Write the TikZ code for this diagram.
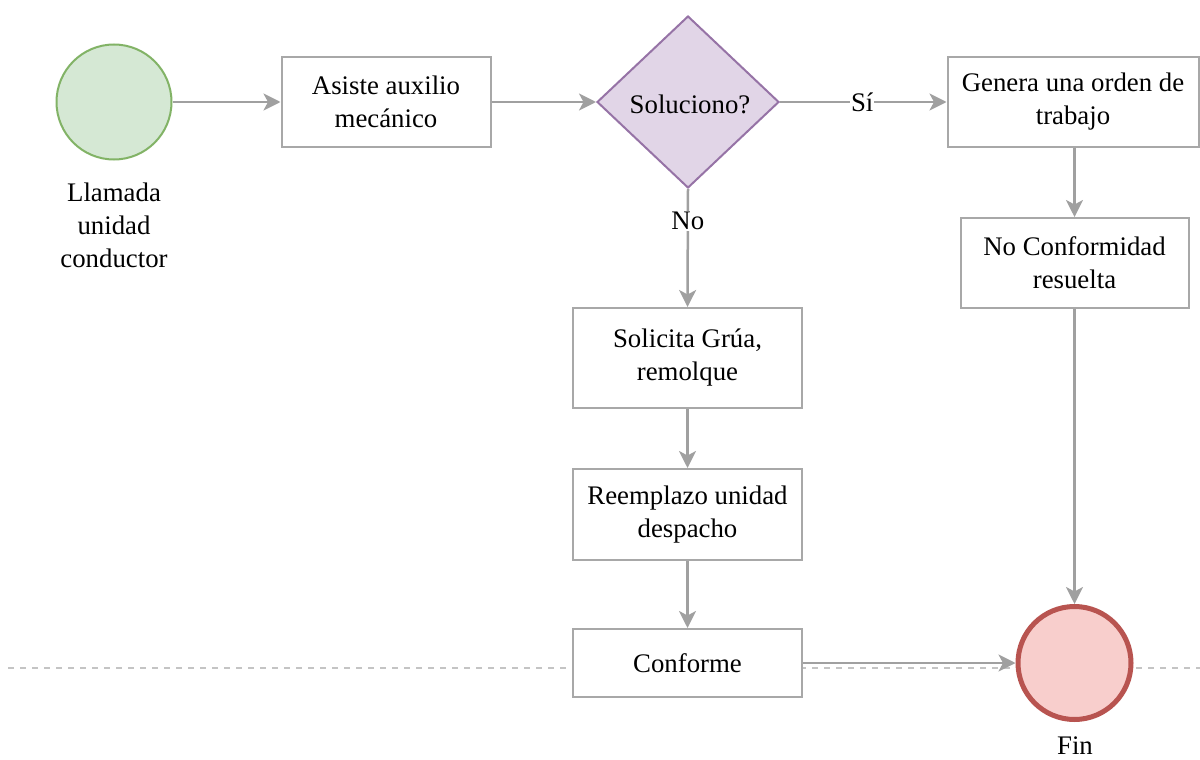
\documentclass[tikz,border=0pt]{standalone}
\usepackage{fontspec}
\setmainfont{Liberation Serif}
\usetikzlibrary{shapes.geometric,arrows.meta}
\definecolor{linegray}{HTML}{A0A0A0}
\definecolor{boxgray}{HTML}{A8A8A8}
\definecolor{dashgray}{HTML}{C4C4C4}
\definecolor{startfill}{HTML}{D5E8D4}
\definecolor{startline}{HTML}{82B366}
\definecolor{endfill}{HTML}{F8CECC}
\definecolor{endline}{HTML}{B85450}
\definecolor{decfill}{HTML}{E1D5E7}
\definecolor{decline}{HTML}{9673A6}
\tikzset{
  txt/.style={font=\fontsize{26.8}{33}\selectfont, align=center, text=black},
  procbox/.style={txt, draw=boxgray, line width=2pt, fill=white, rectangle, inner sep=0pt},
  conn/.style={draw=linegray, line width=2.5pt, -{Stealth[length=17pt,width=17pt,inset=4.5pt]}, color=linegray},
  lbl/.style={txt, fill=white, inner sep=1pt},
}
\begin{document}
\begin{tikzpicture}[x=1pt,y=-1pt]
\useasboundingbox (0,0) rectangle (1200,760);
% swimlane dashed separator
\draw[dashgray, line width=1.5pt, dash pattern=on 6pt off 6pt] (8,668) -- (1200,668);
% nodes
\node[circle, draw=startline, fill=startfill, line width=2pt, minimum size=115pt, inner sep=0pt] (start) at (114,102) {};
\node[txt] (startlbl) at (114,225) {Llamada\\unidad\\conductor};
\node[procbox, minimum width=209pt, minimum height=90pt] (asiste) at (386,102) {Asiste auxilio\\mecánico};
\node[diamond, draw=decline, fill=decfill, line width=2pt, minimum width=182pt, minimum height=172pt, inner sep=0pt, aspect=1.06] (dec) at (688,102) {};
\node[txt] (dectxt) at (690,104) {Soluciono?};
\node[procbox, minimum width=251pt, minimum height=89pt] (genera) at (1073,102) {Genera una orden de\\trabajo};
\node[procbox, minimum width=228pt, minimum height=90pt] (noconf) at (1074.5,263) {No Conformidad\\resuelta};
\node[procbox, minimum width=229pt, minimum height=100pt] (solicita) at (687.5,358) {Solicita Grúa,\\remolque};
\node[procbox, minimum width=229pt, minimum height=91pt] (reemplazo) at (687.5,514.5) {Reemplazo unidad\\despacho};
\node[procbox, minimum width=229pt, minimum height=68pt] (conforme) at (687.5,663) {Conforme};
\node[circle, draw=endline, fill=endfill, line width=5pt, minimum size=113pt, inner sep=0pt] (fin) at (1074.5,663) {};
\node[txt] (finlbl) at (1075,746) {Fin};
% connectors
\draw[conn] (start) -- (asiste);
\draw[conn] (asiste) -- (dec.west);
\draw[conn] (dec.east) -- (genera.west) node[lbl, pos=0.5, xshift=-1pt] (si) {Sí};
\draw[conn] (dec.south) -- (solicita.north) node[lbl, pos=0.27] (no) {No};
\draw[conn] (solicita) -- (reemplazo);
\draw[conn] (reemplazo) -- (conforme);
\draw[conn] (genera.south -| noconf.north) -- (noconf.north);
\draw[conn] (noconf.south) -- (fin.north);
\draw[conn] (conforme.east) -- (fin.west);
\end{tikzpicture}
\end{document}
